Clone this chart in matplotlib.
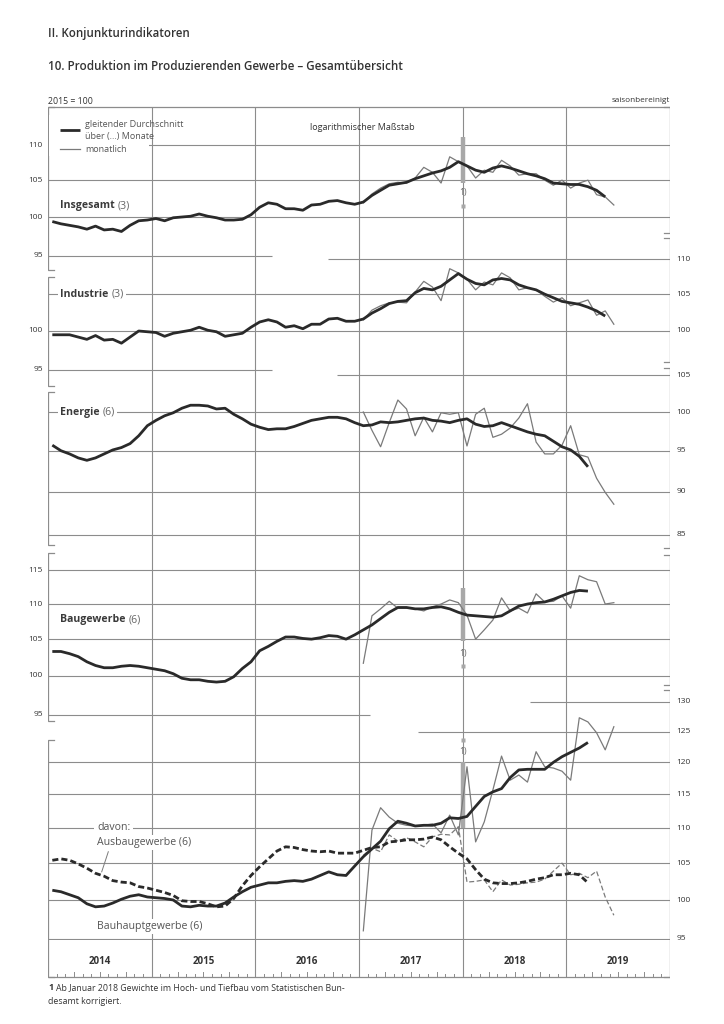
import numpy as np
import matplotlib.pyplot as plt
from matplotlib.patches import Rectangle

plt.rcParams['font.family'] = ['Open Sans', 'DejaVu Sans']

# --- data (index 2015 = 100), months counted from Jan 2014 ---
insg_ma = [99.4, 99.1, 98.9, 98.7, 98.4, 98.8, 98.3, 98.4, 98.1, 98.9, 99.5, 99.6,
           99.8, 99.5, 99.9, 100.0, 100.1, 100.4, 100.1, 99.9, 99.6, 99.6, 99.7, 100.3,
           101.3, 101.9, 101.7, 101.1, 101.1, 100.9, 101.6, 101.7, 102.1, 102.2, 101.9, 101.7,
           102.0, 102.9, 103.6, 104.3, 104.5, 104.7, 105.2, 105.6, 106.0, 106.3, 106.8, 107.6,
           107.0, 106.4, 106.1, 106.7, 107.0, 106.7, 106.3, 105.9, 105.6, 105.2, 104.6, 104.5,
           104.4, 104.4, 104.1, 103.6, 102.7]
insg_m = [101.9, 103.1, 103.9, 104.5, 104.7, 104.6, 105.3, 106.8, 106.1, 104.6, 108.3, 107.6,
          107.0, 105.3, 106.4, 106.1, 107.8, 107.0, 105.7, 105.9, 105.9, 105.0, 104.3, 105.0,
          103.9, 104.6, 105.0, 103.0, 102.7, 101.6]

indu_ma = [99.5, 99.5, 99.5, 99.2, 98.9, 99.4, 98.8, 98.9, 98.4, 99.2, 100.0, 99.9,
           99.8, 99.3, 99.7, 99.9, 100.1, 100.5, 100.1, 99.9, 99.3, 99.5, 99.7, 100.5,
           101.2, 101.5, 101.2, 100.5, 100.7, 100.3, 100.9, 100.9, 101.6, 101.7, 101.3, 101.3,
           101.6, 102.4, 103.0, 103.7, 104.0, 104.1, 105.2, 105.8, 105.6, 106.1, 107.0, 107.9,
           107.1, 106.5, 106.3, 107.0, 107.2, 107.0, 106.3, 105.9, 105.6, 105.0, 104.5, 104.0,
           103.8, 103.6, 103.2, 102.7, 102.0]
indu_m = [101.5, 102.8, 103.4, 103.8, 103.9, 103.8, 105.3, 106.8, 106.0, 104.1, 108.6, 108.0,
          107.1, 105.6, 106.7, 106.3, 108.0, 107.3, 105.6, 105.9, 105.6, 104.7, 103.9, 104.5,
          103.4, 103.8, 104.2, 102.1, 102.7, 100.9]

ener_ma = [95.7, 95.0, 94.6, 94.1, 93.8, 94.1, 94.6, 95.1, 95.4, 95.9, 96.9, 98.2,
           98.9, 99.5, 99.9, 100.5, 100.9, 100.9, 100.8, 100.4, 100.5, 99.7, 99.1, 98.4,
           98.0, 97.7, 97.8, 97.8, 98.1, 98.5, 98.9, 99.1, 99.3, 99.3, 99.1, 98.6,
           98.2, 98.3, 98.7, 98.6, 98.7, 98.9, 99.1, 99.2, 98.9, 98.8, 98.6, 98.9,
           99.1, 98.4, 98.1, 98.2, 98.6, 98.2, 97.8, 97.4, 97.1, 96.9, 96.2, 95.5,
           95.1, 94.3, 93.0]
ener_m = [100.0, 97.6, 95.5, 98.6, 101.6, 100.4, 96.9, 99.3, 97.4, 99.9, 99.7, 99.9,
          95.6, 99.7, 100.5, 96.7, 97.1, 97.9, 99.2, 101.1, 96.1, 94.6, 94.6, 95.7,
          98.2, 94.5, 94.2, 91.6, 89.9, 88.5]

bau_ma = [103.3, 103.3, 103.0, 102.6, 101.9, 101.4, 101.1, 101.1, 101.3, 101.4, 101.3, 101.1,
          100.9, 100.7, 100.3, 99.7, 99.5, 99.5, 99.3, 99.2, 99.3, 99.9, 101.0, 101.9,
          103.4, 104.0, 104.7, 105.3, 105.3, 105.1, 105.0, 105.2, 105.5, 105.4, 105.0, 105.6,
          106.3, 107.0, 107.9, 108.8, 109.5, 109.5, 109.3, 109.3, 109.5, 109.6, 109.3, 108.8,
          108.4, 108.3, 108.2, 108.1, 108.3, 109.0, 109.7, 110.0, 110.2, 110.3, 110.7, 111.2,
          111.7, 112.0, 111.9]
bau_m = [101.7, 108.3, 109.3, 110.4, 109.4, 109.4, 109.3, 109.0, 109.6, 110.0, 110.6, 110.2,
         108.4, 105.0, 106.3, 107.7, 110.9, 109.0, 109.4, 108.7, 111.5, 110.3, 110.4, 111.2,
         109.4, 114.2, 113.6, 113.3, 110.0, 110.2]

haupt_ma = [101.3, 101.1, 100.7, 100.3, 99.5, 99.1, 99.2, 99.6, 100.1, 100.5, 100.7, 100.4,
            100.3, 100.2, 100.0, 99.2, 99.1, 99.3, 99.2, 99.2, 99.6, 100.4, 101.1, 101.7,
            102.0, 102.3, 102.3, 102.5, 102.6, 102.5, 102.8, 103.3, 103.8, 103.4, 103.3, 104.6,
            105.9, 107.0, 108.1, 109.9, 111.0, 110.7, 110.3, 110.4, 110.4, 110.7, 111.5, 111.4,
            111.7, 113.2, 114.7, 115.4, 115.9, 117.6, 118.8, 118.9, 118.9, 118.9, 120.0, 120.9,
            121.6, 122.3, 123.2]
haupt_m = [96.0, 109.7, 113.0, 111.6, 110.7, 110.4, 110.3, 110.4, 110.6, 109.3, 111.9, 109.0,
           119.3, 108.0, 110.9, 115.7, 121.0, 117.2, 118.0, 116.9, 121.7, 119.3, 119.1, 118.6,
           117.2, 127.3, 126.6, 124.8, 122.0, 125.8]

ausbau_ma = [105.4, 105.6, 105.4, 104.9, 104.3, 103.6, 103.2, 102.6, 102.4, 102.3, 101.8, 101.6,
             101.3, 101.0, 100.6, 99.9, 99.8, 99.8, 99.5, 99.1, 99.2, 100.2, 101.9, 103.3,
             104.5, 105.6, 106.7, 107.3, 107.2, 106.9, 106.7, 106.6, 106.7, 106.4, 106.4, 106.4,
             106.8, 107.2, 107.3, 108.0, 108.1, 108.3, 108.3, 108.4, 108.7, 108.3, 107.3, 106.4,
             105.6, 104.1, 102.8, 102.3, 102.2, 102.2, 102.3, 102.5, 102.8, 103.0, 103.4, 103.4,
             103.6, 103.4, 102.3]
ausbau_m = [106.1, 107.1, 106.6, 109.0, 108.1, 108.6, 108.0, 107.3, 108.7, 109.1, 109.0, 110.2,
            102.4, 102.5, 102.7, 101.1, 102.7, 102.0, 102.1, 102.3, 102.4, 102.8, 103.9, 105.0,
            103.4, 103.6, 103.0, 103.9, 100.4, 98.0]

years = ['2014', '2015', '2016', '2017', '2018', '2019']
first_monthly = 36  # monthly values shown from Jan 2017
break_month = 48    # Jan 2018, footnote 1)

# --- layout (pixels of the 724x1024 page) ---
W, H = 724, 1024
X0, X1 = 48, 670
K = 755.0  # pixels per log unit
GRID = '#8c8c8c'
DARK = '#2a2a2a'
THIN = '#7a7a7a'
TXT = '#333333'

fig = plt.figure(figsize=(7.24, 10.24), dpi=100)


def rect(top, bot):
    return [X0 / W, 1 - bot / H, (X1 - X0) / W, (bot - top) / H]


def mx(px):
    return (px - X0) / (X1 - X0) * 72


# frame axes: x in months, y in page pixels
fr = fig.add_axes(rect(0, H))
fr.set_xlim(0, 72)
fr.set_ylim(H, 0)
fr.axis('off')
fr.vlines(np.arange(12, 72, 12), 107, 977, color=GRID, lw=0.8)
fr.hlines([107, 977], 0, 72, color=GRID, lw=0.9)

left_segs = [(107, 270), (277, 386), (392, 545), (553, 721), (740, 977)]
right_segs = [(107, 233), (238, 362), (368, 548), (555, 685), (690, 977)]
tk = mx(X0 + 6)
for a, b in left_segs:
    fr.plot([tk, 0, 0, tk], [a, a, b, b], color=GRID, lw=0.9, solid_joinstyle='miter')
for a, b in right_segs:
    fr.plot([72 - tk, 72, 72, 72 - tk], [a, a, b, b], color=GRID, lw=0.9, solid_joinstyle='miter')

# month ticks and year labels
for m in range(1, 72):
    if m % 12 == 0:
        continue
    ln = 5 if m % 3 == 0 else 3
    fr.plot([m, m], [977, 977 - ln], color=GRID, lw=0.7)
for i, y in enumerate(years):
    fr.text(i * 12 + 6, 961, y, ha='center', va='center', fontsize=7,
            fontweight='bold', color=TXT)

# header texts
fig.text(X0 / W, 1 - 33 / H, 'II. Konjunkturindikatoren', fontsize=8.3,
         fontweight='semibold', color=TXT, va='center')
fig.text(X0 / W, 1 - 67 / H, '10. Produktion im Produzierenden Gewerbe – Gesamtübersicht',
         fontsize=8.4, fontweight='semibold', color=TXT, va='center')
fig.text(X0 / W, 1 - 101 / H, '2015 = 100', fontsize=6.3, color=TXT, va='center')
fig.text(X1 / W, 1 - 101 / H, 'saisonbereinigt', fontsize=5.9, color=TXT, va='center', ha='right')
fig.text(362 / W, 1 - 127 / H, 'logarithmischer Maßstab', fontsize=6.5, color=TXT,
         va='center', ha='center')

# footnote
fig.text(X0 / W, 1 - 988 / H, '1', fontsize=6.4, fontweight='bold', color=TXT, va='center')
fig.text((X0 + 8) / W, 1 - 988 / H,
         'Ab Januar 2018 Gewichte im Hoch- und Tiefbau vom Statistischen Bun-',
         fontsize=6.3, color=TXT, va='center')
fig.text(X0 / W, 1 - 1001 / H, 'desamt korrigiert.', fontsize=6.3, color=TXT, va='center')


def panel(top, bot, ref):
    ax = fig.add_axes(rect(top, bot))
    ax.set_yscale('log')
    ax.set_xlim(0, 72)
    ax.set_ylim(100 * np.exp((ref - bot) / K), 100 * np.exp((ref - top) / K))
    ax.axis('off')
    ax.patch.set_visible(False)
    return ax


def grid(ax, vals, x0=0, x1=72):
    ax.hlines(vals, x0, x1, color=GRID, lw=0.8, zorder=1)


def labels(ax, vals, side):
    tr = ax.get_yaxis_transform()
    for v in vals:
        if side == 'left':
            ax.text(-0.008, v, str(v), transform=tr, ha='right', va='center',
                    fontsize=6, color=TXT, clip_on=False)
        else:
            ax.text(1.01, v, str(v), transform=tr, ha='left', va='center',
                    fontsize=6, color=TXT, clip_on=False)


def name(ax, x, v, bold, rest, bg=True):
    box = dict(facecolor='white', edgecolor='none', pad=1.5) if bg else None
    t = ax.text(x, v, bold, ha='left', va='center', fontsize=7.6, fontweight='bold',
                color='#3a3a3a', zorder=6, bbox=box)
    ax.annotate(rest, xy=(1, 0.5), xycoords=t, xytext=(2.2, 0), textcoords='offset points',
                ha='left', va='center', fontsize=7.6, color='#666666', zorder=5.5, bbox=box)


def series(ax, ma, mon, ls='-'):
    xm = np.arange(len(ma)) + 0.5
    xs = np.arange(first_monthly, first_monthly + len(mon)) + 0.5
    if ls == '-':
        ax.plot(xs, mon, color=THIN, lw=0.9, zorder=3)
        ax.plot(xm, ma, color=DARK, lw=2.0, zorder=4, solid_capstyle='butt')
    else:
        ax.plot(xs, mon, color=THIN, lw=0.9, zorder=3, dashes=(4, 2))
        ax.plot(xm, ma, color=DARK, lw=2.0, zorder=4, dashes=(2.2, 1.1))


def footmark(ax, top, bot, txt_v, sq_v):
    ax.plot([break_month, break_month], [bot, top], color='#a8a8a8', lw=3.2,
            solid_capstyle='butt', zorder=2)
    ax.text(break_month, txt_v, '1)', ha='center', va='center', fontsize=6.3, color='#666666')
    ax.plot([break_month], [sq_v], marker='s', ms=2.6, color='#a8a8a8', mec='none')


# panel 1: Insgesamt
a1 = panel(107, 272, 217)
grid(a1, [110, 105, 100])
grid(a1, [95], 0, mx(272))
labels(a1, [110, 105, 100, 95], 'left')
footmark(a1, 111.2, 104.6, 103.3, 101.5)
series(a1, insg_ma, insg_m)
name(a1, mx(60), 101.5, 'Insgesamt', '(3)', bg=False)
# legend
a1.add_patch(Rectangle((0.002, 0.703), mx(148) / 72, 0.25, transform=a1.transAxes,
                       facecolor='white', edgecolor='none', zorder=4))
a1.plot([mx(60), mx(80)], [112.2, 112.2], color=DARK, lw=2.0, zorder=5, solid_capstyle='butt')
a1.plot([mx(60), mx(80)], [109.4, 109.4], color=THIN, lw=0.9, zorder=5)
for v, s in [(113.1, 'gleitender Durchschnitt'), (111.2, 'über (...) Monate'),
             (109.3, 'monatlich')]:
    a1.text(mx(85), v, s, fontsize=6.5, color='#555555', va='center', zorder=6)

# panel 2: Industrie
a2 = panel(238, 380, 331)
grid(a2, [105, 100])
grid(a2, [110], mx(328), 72)
grid(a2, [95], 0, mx(272))
labels(a2, [100, 95], 'left')
labels(a2, [110, 105, 100], 'right')
series(a2, indu_ma, indu_m)
name(a2, mx(60), 105, 'Industrie', '(3)')

# panel 3: Energie
a3 = panel(365, 548, 412)
grid(a3, [100, 95, 90, 85])
grid(a3, [105], mx(337), 72)
labels(a3, [105, 100, 95, 90, 85], 'right')
series(a3, ener_ma, ener_m)
name(a3, mx(60), 100, 'Energie', '(6)')

# panel 4: Baugewerbe
a4 = panel(553, 722, 676)
grid(a4, [115, 110, 105, 100])
grid(a4, [95], 0, mx(370))
labels(a4, [115, 110, 105, 100, 95], 'left')
footmark(a4, 112.4, 104.7, 103.0, 101.3)
series(a4, bau_ma, bau_m)
name(a4, mx(60), 107.7, 'Baugewerbe', '(6)', bg=False)

# panel 5: Bauhauptgewerbe / Ausbaugewerbe
a5 = panel(695, 940, 900)
grid(a5, [120, 115, 110, 105, 100, 95])
grid(a5, [130], mx(530), 72)
grid(a5, [125], mx(418), 72)
labels(a5, [130, 125, 120, 115, 110, 105, 100, 95], 'right')
footmark(a5, 120.1, 110.0, 121.8, 123.6)
series(a5, haupt_ma, haupt_m)
series(a5, ausbau_ma, ausbau_m, ls='--')
a5.text(mx(97), 110.1, 'davon:', fontsize=7.6, color='#555555', va='center', zorder=6,
        bbox=dict(facecolor='white', edgecolor='none', pad=2))
a5.text(mx(97), 107.9, 'Ausbaugewerbe (6)', fontsize=7.6, color='#555555', va='center',
        zorder=6, bbox=dict(facecolor='white', edgecolor='none', pad=1.5))
a5.plot([mx(108.3), mx(101.7)], [106.6, 103.8], color=THIN, lw=0.7, zorder=6)
a5.text(mx(97), 96.6, 'Bauhauptgewerbe (6)', fontsize=7.6, color='#555555', va='center',
        zorder=6, bbox=dict(facecolor='white', edgecolor='none', pad=1.5))

fig.savefig('out.png', dpi=100, facecolor='white')
